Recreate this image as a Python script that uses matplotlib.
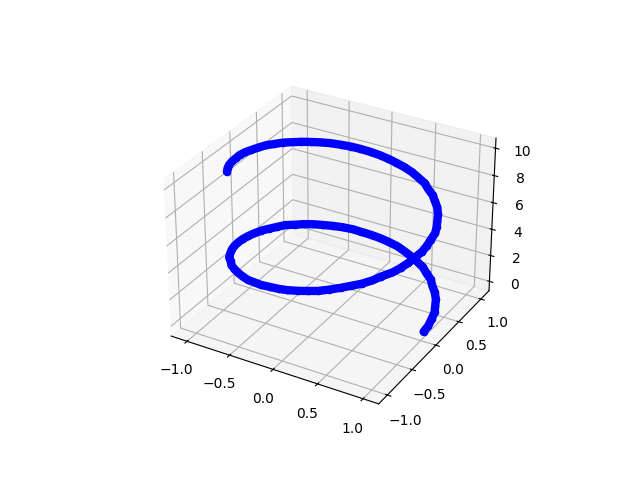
import matplotlib
matplotlib.use('Agg')
import matplotlib.pyplot as plt

# Values
x = [1.03, 1.03, 1.01, .99, .95, .91, .85, .78, .72, .64,
     .56, .46, .37, .28, .18, .07, -.03, -.13, -.24, -.33,
     -.43, -.52, -.61, -.69, -.76, -.82, -.89, -.93, -.97, -1.00,
     -1.02, -1.03, -1.03, -1.02, -1.00, -.97, -.93, -.88, -.81, -.75,
     -.67, -.59, -.50, -.41, -.32, -.22, -.11, -.01, .09, .20,
     .29, .39, .48, .57, .65, .73, .80, .85, .92, .96,
     .99, 1.01, 1.03, 1.03, 1.02, 1.01, .98, .94, .90, .84,
     .77, .71, .63, .55, .45, .36, .26, .15, .05, -.05,
     -.15, -.26, -.35, -.44, -.54, -.62, -.70, -.77, -.83, -.89,
     -.94, -.98, -1.00, -1.02, -1.03, -1.03, -1.01, -.99, -.96, -.92,
     -.87]
y = [.00, .10, .21, .31, .40, .49, .58, .66, .74, .80,
     .87, .92, .96, .99, 1.02, 1.03, 1.03, 1.02, 1.00, .98,
     .94, .89, .83, .77, .70, .62, .54, .44, .34, .25,
     .14, .04, -.06, -.16, -.27, -.36, -.45, -.55, -.63, -.71,
     -.78, -.84, -.90, -.95, -.98, -1.01, -1.02, -1.03, -1.03, -1.01,
     -.99, -.96, -.91, -.85, -.79, -.73, -.65, -.57, -.47, -.38,
     -.29, -.19, -.08, .02, .12, .23, .32, .41, .50, .60,
     .68, .75, .81, .88, .93, .97, 1.00, 1.02, 1.03, 1.03,
     1.02, 1.00, .97, .93, .88, .82, .75, .68, .60, .52,
     .42, .33, .23, .12, .03, -.08, -.18, -.28, -.38, -.47,
     -.56]
z = [0.0, 0.1, 0.2, 0.3, 0.4, 0.5, 0.6, 0.7, 0.8, 0.9,
     1.0, 1.1, 1.2, 1.3, 1.4, 1.5, 1.6, 1.7, 1.8, 1.9,
     2.0, 2.1, 2.2, 2.3, 2.4, 2.5, 2.6, 2.7, 2.8, 2.9,
     3.0, 3.1, 3.2, 3.3, 3.4, 3.5, 3.6, 3.7, 3.8, 3.9,
     4.0, 4.1, 4.2, 4.3, 4.4, 4.5, 4.6, 4.7, 4.8, 4.9,
     5.0, 5.1, 5.2, 5.3, 5.4, 5.5, 5.6, 5.7, 5.8, 5.9,
     6.0, 6.1, 6.2, 6.3, 6.4, 6.5, 6.6, 6.7, 6.8, 6.9,
     7.0, 7.1, 7.2, 7.3, 7.4, 7.5, 7.6, 7.7, 7.8, 7.9,
     8.0, 8.1, 8.2, 8.3, 8.4, 8.5, 8.6, 8.7, 8.8, 8.9,
     9.0, 9.1, 9.2, 9.3, 9.4, 9.5, 9.6, 9.7, 9.8, 9.9,
     10.0]

fig = plt.figure(figsize=(6.4, 4.8), dpi=100)
ax = fig.add_subplot(projection='3d')
ax.plot(x, y, z, color='b', linewidth=6, solid_capstyle='round')
ax.scatter(x, y, z, c='b', depthshade=False)
ax.set_xlim(-1.19, 1.17)
ax.set_ylim(-1.17, 1.19)

plt.savefig('out.png', dpi=100)
